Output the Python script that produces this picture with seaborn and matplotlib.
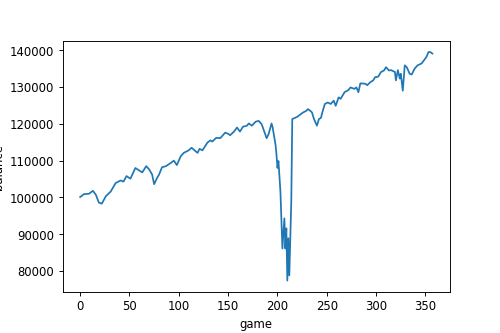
import matplotlib
matplotlib.use("Agg")
import matplotlib.pyplot as plt
import seaborn as sns
import pandas as pd

game = [0, 4, 9, 13, 16, 19, 22, 26, 31, 36, 41, 44, 47, 51, 56, 60, 63, 67, 70, 73,
        75, 78, 80, 83, 87, 92, 95, 98, 102, 105, 110, 113, 116, 119, 121, 124, 129, 132,
        134, 138, 142, 147, 150, 152, 156, 159, 162, 165, 169, 171, 174, 178, 181, 184,
        187, 189, 191, 194, 195, 198, 199, 200, 201, 203, 204, 205, 207, 208, 209, 210,
        211, 212, 214, 215, 220, 223, 226, 229, 231, 233, 235, 237, 240, 242, 244, 246,
        248, 251, 254, 257, 259, 262, 264, 268, 272, 274, 278, 280, 282, 284, 289, 291,
        294, 297, 299, 302, 305, 308, 310, 313, 315, 319, 320, 322, 324, 325, 327, 329,
        331, 334, 336, 339, 342, 346, 348, 351, 353, 355, 357]

balance = [100100, 100900, 101000, 101800, 100700, 98600, 98300, 100300, 101600, 103900,
           104600, 104300, 105800, 105100, 108000, 107300, 106800, 108500, 107600, 106200,
           103600, 105300, 106200, 108200, 108500, 109400, 110000, 108800, 111200, 112100,
           112800, 113500, 112800, 112100, 113200, 112800, 114900, 115500, 115200, 116200,
           116100, 117600, 117300, 116900, 117900, 119000, 117900, 119200, 119500, 120100,
           119500, 120600, 120800, 119900, 117600, 116100, 117200, 120100, 119200, 114400,
           111700, 108000, 109900, 101600, 93400, 86100, 94300, 86100, 91600, 77400,
           88900, 78800, 98900, 121300, 121900, 122500, 123100, 123500, 124000, 123600,
           123100, 121300, 119500, 121300, 121600, 123600, 125400, 125800, 125400, 126300,
           124900, 127200, 126800, 128600, 129200, 129900, 129500, 129900, 128600, 131000,
           130900, 130500, 131300, 131800, 132700, 132800, 134100, 134500, 135400, 134500,
           134600, 134100, 131800, 134600, 132300, 133600, 129000, 135900, 135400, 133600,
           133400, 135000, 135900, 136400, 137100, 138200, 139500, 139500, 139100]

df = pd.DataFrame({"game": game, "balance": balance})

fig, ax = plt.subplots(figsize=(6, 4), dpi=500 / 6)
fig.subplots_adjust(left=0.125, right=0.9, top=0.877, bottom=0.123)
sns.lineplot(data=df, x="game", y="balance", ax=ax, color="#1f77b4", linewidth=1.5)
ax.set_xlabel("game")
ax.set_ylabel("balance")
fig.savefig("out.png", dpi=500 / 6)
